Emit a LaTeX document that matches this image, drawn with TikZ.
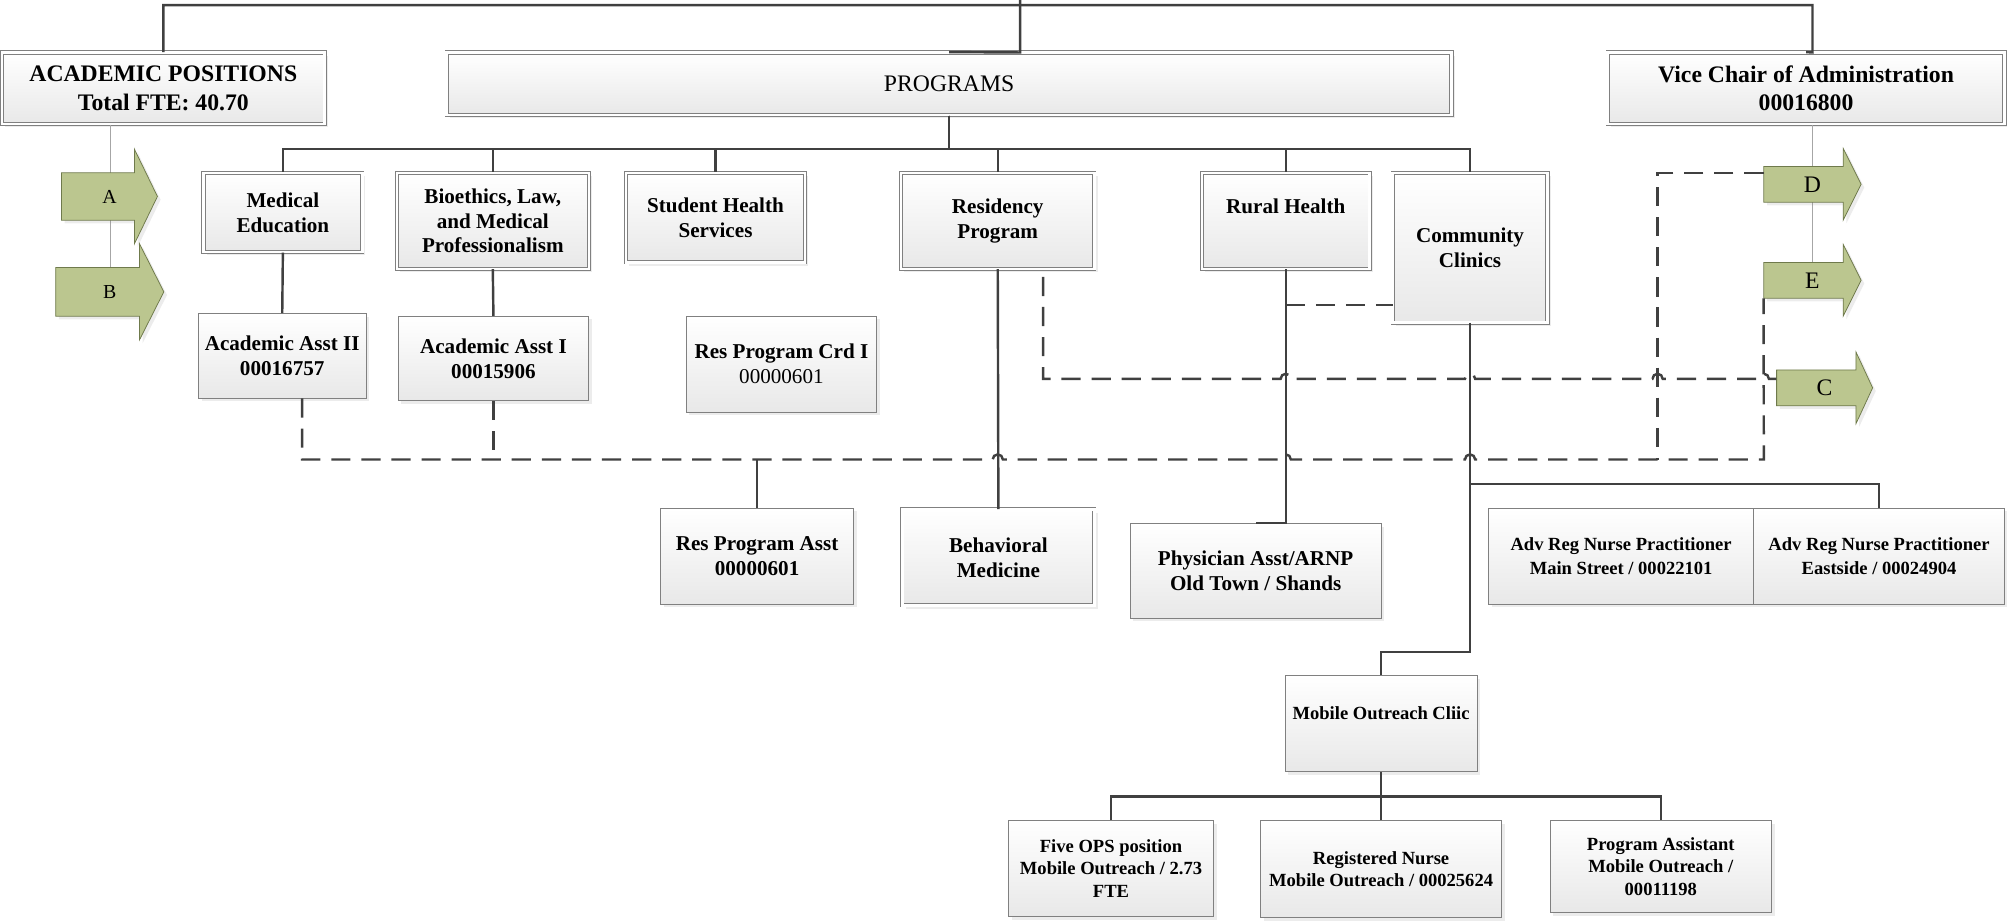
\documentclass[tikz,border=0pt]{standalone}
\usepackage{fontspec}
\setmainfont{Liberation Serif}
\usetikzlibrary{calc,shadows}
\definecolor{tagfill}{HTML}{BBC68F}
\definecolor{tagedge}{HTML}{6F7A4C}
\definecolor{linegray}{HTML}{404040}
\tikzset{
  box/.style={draw=black!50, line width=0.6pt, top color=white, bottom color=black!9, inner sep=2pt, align=center,
    font=\bfseries\fontsize{16.5}{19.5}\selectfont,
    drop shadow={opacity=0.15, shadow xshift=2.5pt, shadow yshift=-2.5pt}},
  dbox/.style={box, double=white, double distance=2pt},
  topbox/.style={dbox, font=\bfseries\fontsize{18.5}{22.5}\selectfont},
  smallbox/.style={box, font=\bfseries\fontsize{14.5}{17.5}\selectfont},
  conn/.style={draw=linegray, line width=1.9pt},
  dashconn/.style={conn, dash pattern=on 15pt off 8.5pt},
  thinline/.style={draw=black!35, line width=0.6pt},
  tagshape/.style={fill=tagfill, draw=tagedge, line width=0.6pt,
    drop shadow={opacity=0.15, shadow xshift=2.5pt, shadow yshift=-2.5pt}},
  tagbody/.style={inner sep=0pt}
}

\begin{document}
\begin{tikzpicture}[x=1pt,y=-1pt]
\useasboundingbox (0,0) rectangle (1568,720);

\node[topbox, minimum width=252pt, minimum height=56pt] (academic) at (127.6,69) {ACADEMIC POSITIONS\\Total FTE: 40.70};
\node[topbox, minimum width=785pt, minimum height=49pt, font=\fontsize{18.5}{22.5}\selectfont] (programs) at (741.5,65.5) {PROGRAMS};
\node[topbox, minimum width=310pt, minimum height=56pt] (vice) at (1411,69) {Vice Chair of Administration\\00016800};

\node[dbox, minimum width=124pt, minimum height=62pt] (meded) at (221,166) {Medical\\Education};
\node[dbox, minimum width=150pt, minimum height=75pt] (bioeth) at (385,172.5) {Bioethics, Law,\\and Medical\\Professionalism};
\node[dbox, minimum width=140pt, minimum height=70pt] (student) at (559,170) {Student Health\\Services};
\node[dbox, minimum width=151pt, minimum height=75pt] (resid) at (779.5,172.5) {Residency\\Program};
\node[dbox, minimum width=131pt, minimum height=75pt] (rural) at (1004.5,172.5) {Rural Health\\[3pt]~};
\node[dbox, minimum width=121pt, minimum height=117pt] (cc) at (1148.5,193.5) {Community\\Clinics};

\node[box, minimum width=131pt, minimum height=66pt] (aa2) at (220.5,278) {Academic Asst II\\00016757};
\node[box, minimum width=149pt, minimum height=66pt] (aa1) at (385.5,280) {Academic Asst I\\00015906};
\node[box, minimum width=149pt, minimum height=75pt] (crd) at (610.5,284.5) {Res Program Crd I\\{\mdseries 00000601}};

\node[box, minimum width=151pt, minimum height=75pt] (rpa) at (591.5,434.5) {Res Program Asst\\00000601};
\node[dbox, minimum width=150pt, minimum height=75pt] (behav) at (780,435.5) {Behavioral\\Medicine};
\node[box, minimum width=196pt, minimum height=74pt] (physasst) at (981,446) {Physician Asst/ARNP\\Old Town / Shands};
\node[smallbox, minimum width=207pt, minimum height=75pt, font=\bfseries\fontsize{14.5}{19.5}\selectfont] (adv1) at (1266.5,434.5) {Adv Reg Nurse Practitioner\\Main Street / 00022101};
\node[smallbox, minimum width=196pt, minimum height=75pt, font=\bfseries\fontsize{14.5}{19.5}\selectfont] (adv2) at (1468,434.5) {Adv Reg Nurse Practitioner\\Eastside / 00024904};

\node[smallbox, minimum width=150pt, minimum height=75pt] (mobile) at (1079,565.5) {Mobile Outreach Cliic\\~};
\node[smallbox, minimum width=160pt, minimum height=75pt] (fiveops) at (868,678.5) {Five OPS position\\Mobile Outreach / 2.73\\FTE};
\node[smallbox, minimum width=188pt, minimum height=76pt] (rn) at (1079,679) {Registered Nurse\\Mobile Outreach / 00025624};
\node[smallbox, minimum width=173pt, minimum height=72pt] (progasst) at (1297.5,677) {Program Assistant\\Mobile Outreach /\\00011198};

\draw[thinline] ($(academic.south)+(-41.6,0)$) -- ++(0,112);
\draw[thinline] ($(vice.south)+(5,0)$) -- ++(0,108);

\foreach \n/\x/\y/\w/\h/\hw/\hl/\fs in {A/48/135/57/37/74/18/15.5, B/43.5/209/65.5/38/75/19/15.5, D/1378/130/62/28/56/14/18.5, E/1378/205/62/28/56/14/18.5, C/1388/289/62/28/56/13/18.5}{
  \draw[tagshape] (\x,\y) -- ({\x+\w},\y) -- ({\x+\w},{\y+\h/2-\hw/2}) -- ({\x+\w+\hl},{\y+\h/2}) -- ({\x+\w},{\y+\h/2+\hw/2}) -- ({\x+\w},{\y+\h}) -- (\x,{\y+\h}) -- cycle;
  \node[tagbody, minimum width=\w pt, minimum height=\h pt, font=\fontsize{\fs}{\fs}\selectfont] (tag\n) at ({\x+\w/2},{\y+\h/2}) {\hspace*{\hl pt}\n};
}

\coordinate (root) at (797,0);
\draw[conn] (root) -- (797,41) -- (programs.north);
\draw[conn] (academic.north) |- (1416,4) -- (1416,41) -- (vice.north);

\foreach \c in {meded,bioeth,student,resid,rural,cc}
  \draw[conn] (programs.south) -- ++(0,26) -| (\c.north);

\draw[conn] (meded.south) -- (aa2.north);
\draw[conn] (bioeth.south) -- (aa1.north);
\draw[conn] (resid.south) -- (behav.north);
\draw[conn] (rural.south) |- (physasst.north);
\draw[conn] (cc.south) -- ++(0,126) -| (adv2.north);
\draw[conn] (cc.south) -- ++(0,257) -| (mobile.north);
\foreach \c in {fiveops,rn,progasst}
  \draw[conn] (mobile.south) -- ++(0,19) -| (\c.north);
\draw[conn] (rpa.north) -- ++(0,-38);

\draw[dashconn] ($(rural.south)+(0,28)$) -- ++(83.5,0);
\draw[dashconn] ($(resid.south)+(35.5,6)$) -- (815,296) -- (1000.5,296) arc (180:360:4) -- (1144.5,296) arc (180:360:4) -- (1291,296) arc (180:360:4) -- (1374,296) arc (180:360:4) -- ($(tagC.west)+(0,-7)$);
\draw[dashconn] ($(aa2.south)+(15.5,0)$) -- (236,359) -- (775.5,359) arc (180:360:4) -- (1000.5,359) arc (180:360:4) -- (1144.5,359) arc (180:360:4) -- (1378,359) -- (tagE.south west);
\draw[dashconn] (aa1.south) -- ++(0,46);
\draw[dashconn] ($(tagD.west)+(0,-9)$) -| (1295,359);
\end{tikzpicture}
\end{document}
